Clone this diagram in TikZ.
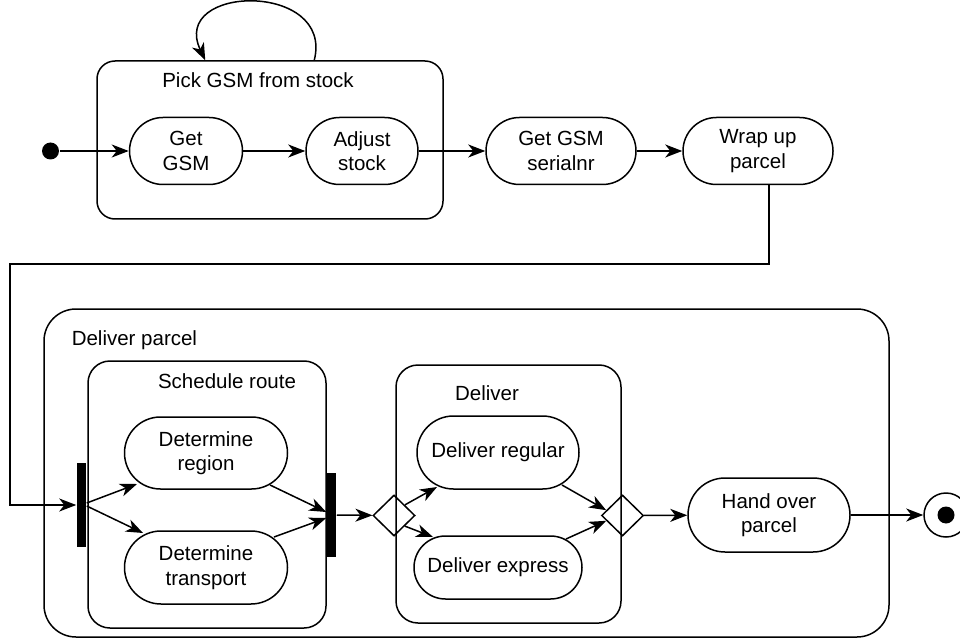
\documentclass[tikz,border=0pt]{standalone}
\usepackage{fontspec}
\setmainfont{Liberation Sans}
\usetikzlibrary{arrows.meta,shapes.geometric,shapes.misc,calc}

\begin{document}
\begin{tikzpicture}[x=1pt,y=-1pt,line width=1.5pt,
    font=\fontsize{20.5}{24.6}\selectfont,
    outline/.style={draw,rounded rectangle,inner sep=0pt},
    action/.style 2 args={rectangle,align=center,inner sep=0pt,minimum width=#1,minimum height=#2,
        append after command={node[outline,minimum width=#1,minimum height=#2] at (\tikzlastnode) {}}},
    group/.style={draw,rectangle,rounded corners=#1,inner sep=0pt},
    title/.style={inner sep=0pt},
    bar/.style={fill=black,rectangle,minimum width=9pt,minimum height=84pt,inner sep=0pt},
    choice/.style={draw,diamond,minimum width=42pt,minimum height=41pt,inner sep=0pt},
    flow/.style={-{Stealth[length=17pt,width=13pt,inset=5pt]}}]

    \useasboundingbox (0,0) rectangle (960,644);

    % Kotak-kotak grup
    \node[group=18pt,minimum width=346pt,minimum height=158pt] (pick) at (270,140) {};
    \node[title] (picktitle) at (258,80) {Pick GSM from stock};
    \node[group=32pt,minimum width=845pt,minimum height=328pt] (parcel) at (466.5,473) {};
    \node[title,anchor=west] (parceltitle) at (71,340) {Deliver parcel};
    \node[group=22pt,minimum width=238pt,minimum height=267pt] (route) at (207,494.5) {};
    \node[title] (routetitle) at (227,381) {Schedule route};
    \node[group=22pt,minimum width=225pt,minimum height=258pt] (deliver) at (508.5,494) {};
    \node[title] (delivertitle) at (487,393) {Deliver};

    % Titik awal dan titik akhir
    \node[circle,fill=black,minimum size=17pt,inner sep=0pt] (start) at (50.5,151) {};
    \node[circle,draw,minimum size=44pt,inner sep=0pt] (stop) at (946,515) {};
    \node[circle,fill=black,minimum size=17pt,inner sep=0pt] (stopdot) at (stop) {};

    % Aksi baris atas
    \node[action={113pt}{67pt}] (getgsm) at (186,151) {Get\\GSM};
    \node[action={112pt}{67pt}] (adjust) at (362,151) {Adjust\\stock};
    \node[action={150pt}{67pt}] (serial) at (561,151) {Get GSM\\serialnr};
    \node[action={150pt}{67pt}] (wrap) at (758,151) {Wrap up\\parcel};

    % Aksi di dalam grup bawah
    \node[action={163pt}{72pt}] (region) at (206,453) {Determine\\region};
    \node[action={163pt}{73pt}] (transport) at (206,567.5) {Determine\\transport};
    \node[action={162pt}{73pt}] (regular) at (498,452.5) {Deliver regular};
    \node[action={168pt}{63pt}] (express) at (498,567.5) {Deliver express};
    \node[action={162pt}{74pt}] (handover) at (769,515) {Hand over\\parcel};

    % Batang fork/join dan belah ketupat keputusan
    \node[bar] (fork) at (81.5,505) {};
    \node[bar] (join) at (331.5,515) {};
    \node[choice] (dec1) at (394,515.5) {};
    \node[choice] (dec2) at (622.5,515.5) {};

    % Panah baris atas
    \draw[flow] (start) -- (getgsm);
    \draw[flow] (getgsm) -- (adjust);
    \draw[flow] (adjust) -- (serial);
    \draw[flow] (serial) -- (wrap);
    \draw[flow] ($(pick.north west)+(218,0)$) .. controls +(20,-79) and +(-36,-76) .. ($(pick.north west)+(109,0)$);

    % Dari wrap up turun ke fork
    \coordinate (turn) at (10,264);
    \draw[flow] ([xshift=11pt]wrap.south) |- (turn) |- (fork);

    % Panah grup bawah
    \draw[flow] ([yshift=2pt]fork.east) -- ($(region)+(-69,31)$);
    \draw[flow] ([yshift=-1pt]fork.east) -- ($(transport)+(-63,-34.5)$);
    \draw[flow] ($(region)+(64,32)$) -- ([yshift=3pt]join.west);
    \draw[flow] ($(transport)+(68,-30.5)$) -- ([yshift=-3pt]join.west);
    \draw[flow] (join) -- (dec1);
    \draw[flow] (dec1.north east) -- ($(regular)+(-61,34.5)$);
    \draw[flow] (dec1.south east) -- ($(express)+(-65,-30.5)$);
    \draw[flow] ($(regular)+(64,32.5)$) -- (dec2.162);
    \draw[flow] ($(express)+(68,-28.5)$) -- (dec2.198);
    \draw[flow] (dec2) -- (handover);
    \draw[flow] (handover) -- (stop);

\end{tikzpicture}
\end{document}
